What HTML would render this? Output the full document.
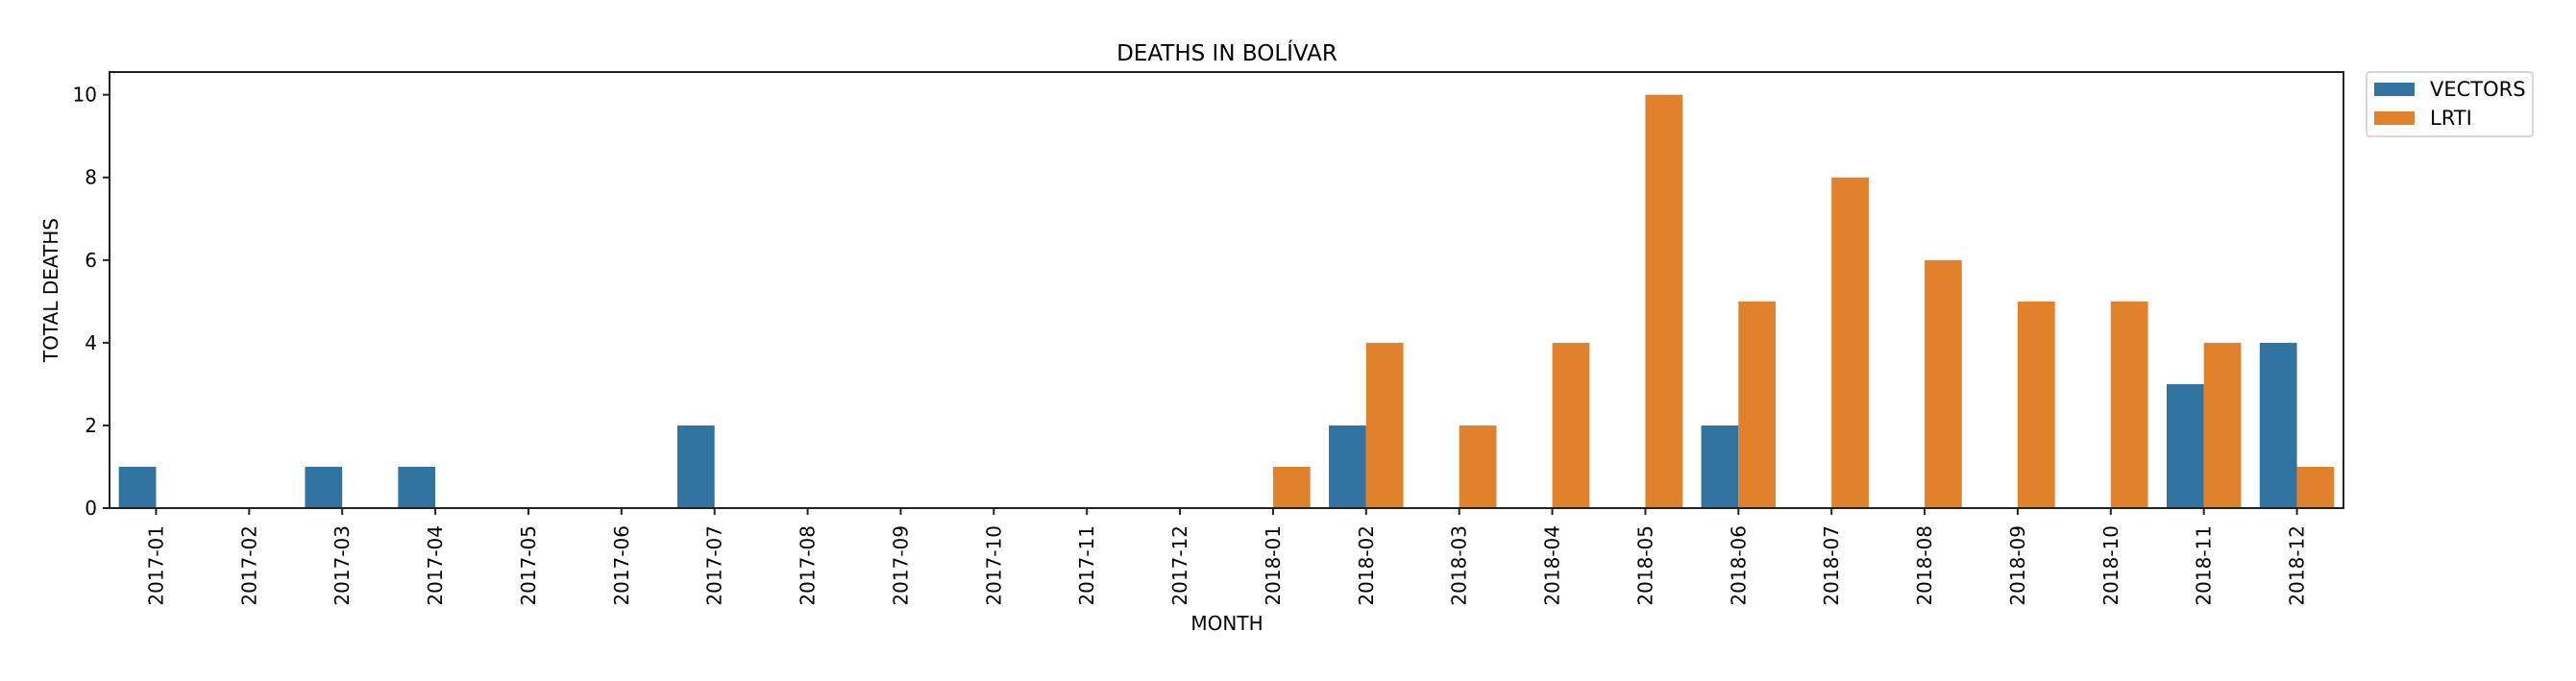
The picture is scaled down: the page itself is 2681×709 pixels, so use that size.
<!DOCTYPE html>
<html><head><meta charset="utf-8"><style>
body{margin:0;background:#fff}
svg text{font-family:"DejaVu Sans","Liberation Sans",sans-serif;fill:#000}
</style></head><body>
<svg width="2681" height="704" xmlns="http://www.w3.org/2000/svg">
<text x="1277" y="63" font-size="23" text-anchor="middle">DEATHS IN BOLÍVAR</text>
<g id="bars"></g>
<g id="axes"></g>
<rect x="114" y="75" width="2325" height="454" fill="none" stroke="#222" stroke-width="2"/>
<text x="1277" y="656" font-size="20" text-anchor="middle">MONTH</text>
<text transform="translate(60,302) rotate(-90)" font-size="20" text-anchor="middle">TOTAL DEATHS</text>
<g>
<rect x="2463" y="75" width="173" height="67" rx="3" fill="#fff" stroke="#ccc" stroke-width="1.5"/>
<rect x="2471" y="86" width="42" height="14" fill="#3274a1"/>
<text x="2529" y="100" font-size="21">VECTORS</text>
<rect x="2471" y="116" width="42" height="14" fill="#e1812c"/>
<text x="2529" y="130" font-size="21">LRTI</text>
</g>
</svg>
<script>
const categories=["2017-01","2017-02","2017-03","2017-04","2017-05","2017-06","2017-07","2017-08","2017-09","2017-10","2017-11","2017-12","2018-01","2018-02","2018-03","2018-04","2018-05","2018-06","2018-07","2018-08","2018-09","2018-10","2018-11","2018-12"];
const vectors=[1,0,1,1,0,0,2,0,0,0,0,0,0,2,0,0,0,2,0,0,0,0,3,4];
const lrti=[0,0,0,0,0,0,0,0,0,0,0,0,1,4,2,4,10,5,8,6,5,5,4,1];
const yTicks=[0,2,4,6,8,10];
const NS="http://www.w3.org/2000/svg";
const x0=114,x1=2439,yb=529,yt=75,ymax=10.55;
const step=(x1-x0)/categories.length;
const xc=i=>x0+step*(i+0.5);
const ys=v=>yb-v/ymax*(yb-yt);
const bars=document.getElementById('bars'),axes=document.getElementById('axes');
function mk(tag,attrs,parent){const e=document.createElementNS(NS,tag);for(const k in attrs)e.setAttribute(k,attrs[k]);parent.appendChild(e);return e;}
const bw=step*0.4;
categories.forEach((c,i)=>{
 const v=vectors[i],l=lrti[i];
 if(v>0){const r=mk('rect',{x:xc(i)-bw,y:ys(v),width:bw,height:yb-ys(v),fill:'#3274a1'},bars);
 
 }
 if(l>0){const r=mk('rect',{x:xc(i),y:ys(l),width:bw,height:yb-ys(l),fill:'#e1812c'},bars);
 
 }
 const t=mk('line',{x1:xc(i),x2:xc(i),y1:yb,y2:yb+7,stroke:'#222','stroke-width':2},axes);
 
 
 const tx=mk('text',{transform:`translate(${xc(i)+7},${yb+18}) rotate(-90)`,'font-size':20,'text-anchor':'end'},axes);
 tx.textContent=c;
 
 
});
yTicks.forEach(v=>{
 const t=mk('line',{x1:x0-7,x2:x0,y1:ys(v),y2:ys(v),stroke:'#222','stroke-width':2},axes);
 
 
 const tx=mk('text',{x:x0-13,y:ys(v)+7,'font-size':20,'text-anchor':'end'},axes);
 tx.textContent=v;
 
 
});
</script>
</body></html>
